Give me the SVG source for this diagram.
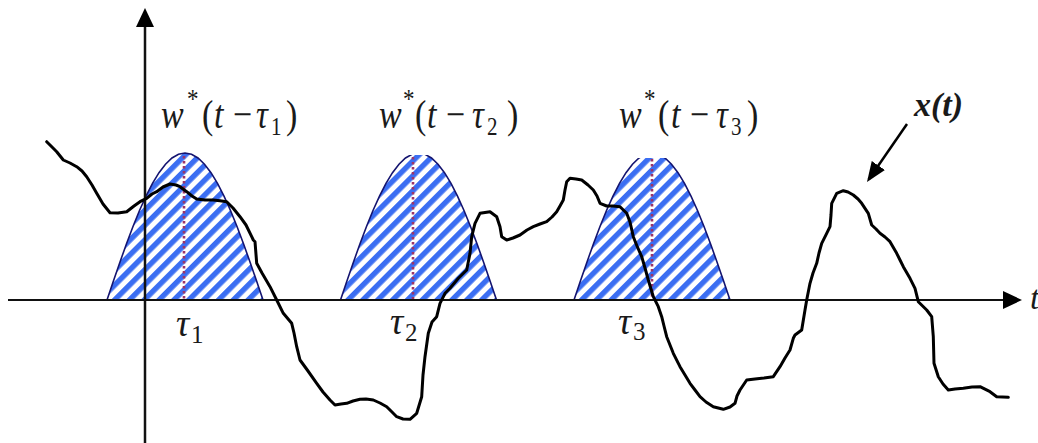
<svg xmlns="http://www.w3.org/2000/svg" width="1038" height="443" viewBox="0 0 1038 443">
<style>
.lbl{font-family:"Liberation Serif","Times New Roman",serif;font-style:italic;font-size:34px;fill:#1a1a1a}
.up{font-style:normal}
.sup{font-style:normal;font-size:23px}
.sub{font-style:normal;font-size:21px}
.tauT{font-size:33px}
.tauB{font-size:37px}
.subB{font-style:normal;font-size:25px}
.bump{fill:url(#hatch);stroke:#141470;stroke-width:1.6}
.dot{stroke:#9c3468;stroke-width:2.6;stroke-dasharray:2.5 2.5}
.axis{stroke:#111;fill:none}
.sig{fill:none;stroke:#000;stroke-width:3;stroke-linejoin:round;stroke-linecap:round}
</style>
<defs>
<pattern id="hatch" width="10.5" height="10.5" patternUnits="userSpaceOnUse" patternTransform="rotate(-45)">
<rect width="10.5" height="10.5" fill="#fff"/>
<rect width="10.5" height="5.4" fill="#3b6ef2"/>
</pattern>
<path id="bumpShape" d="M-78,0 L-71.5,-19.2 -65,-38 -58.5,-56.3 -52,-73.5 -45.5,-89.5 -39,-103.9 -32.5,-116.6 -26,-127.3 -19.5,-135.8 -13,-142 -6.5,-145.7 0,-147 6.5,-145.7 13,-142 19.5,-135.8 26,-127.3 32.5,-116.6 39,-103.9 45.5,-89.5 52,-73.5 58.5,-56.3 65,-38 71.5,-19.2 78,0 Z"/>
<clipPath id="clip2"><rect x="330" y="155" width="180" height="150"/></clipPath>
<clipPath id="clip3"><rect x="560" y="158" width="180" height="150"/></clipPath>
<marker id="ah" viewBox="0 0 20 16" refX="17" refY="8" markerWidth="20" markerHeight="16" markerUnits="userSpaceOnUse" orient="auto">
<path d="M0,0 L20,8 L0,16 Z" fill="#000"/>
</marker>
</defs>

<g id="window1">
<use href="#bumpShape" class="bump" transform="translate(185,300)"/>
<line class="dot" x1="184" y1="156" x2="184" y2="300"/>
</g>
<g id="window2">
<g clip-path="url(#clip2)"><use href="#bumpShape" class="bump" transform="translate(418.5,300)"/></g>
<line class="dot" x1="413" y1="157" x2="413" y2="300"/>
</g>
<g id="window3">
<g clip-path="url(#clip3)"><use href="#bumpShape" class="bump" transform="translate(652,300)"/></g>
<line class="dot" x1="652" y1="159" x2="652" y2="300"/>
</g>

<g id="axes">
<line class="axis" x1="8" y1="300" x2="1004" y2="300" stroke-width="2"/>
<polygon points="1003,291 1022,300 1003,309" fill="#000"/>
<line class="axis" x1="145" y1="443" x2="145" y2="26" stroke-width="2.5"/>
<polygon points="136,27 145,8 154,27" fill="#000"/>
<text class="lbl" x="1030" y="309" font-size="32">t</text>
</g>

<g id="signal">
<polyline class="sig" points="46.7,141.7 52,147 56.7,151.7 63.3,160 70,163 76.7,166.7 82,171 86.7,176.7 92,185 96.7,193.3 103,204 110,212.7 118,213 126.7,211.7 134,206 140,201.7 146.7,198.3 152,194 156.7,191.7 163,187 170,184 176,185 180,186.7 186.7,191.7 192,196 196.7,199 205,200 213,200 220,200.7 226.7,201.7 233,208 240,216.7 246,225 251.7,236.7 253.3,240 255,241.7 256.7,263.3 262,273 270,286.7 276.7,300 283.3,313.3 291.7,323.3 294,333 296.7,346.7 300,360 308,371 316.7,383.3 323,392 330,400 335,405 341,404 346.7,403.3 353,401 360,399.3 366,399 373.3,400 380,403 386.7,406.7 391,411 396.7,416.7 403,419 410,419.3 416.7,413.3 421.7,396.7 423,375 425,356.7 428.3,333.3 432,322 436.7,316.7 440,303.3 445,293.3 450,288.3 458.3,278.3 466.7,270 470,253.3 471.7,236.7 475,223.3 480,213.3 490,211.7 496.7,216.7 500,226.7 501.7,236.7 506.7,240 513,238 520,235 527,230 533.3,226.7 540,224 546.7,221.7 552,217 556.7,211.7 560,206 563.3,200 565,190 566.7,181.7 570,178.3 576,179 581.7,180 588,185 593.3,190 597,196 600,203.3 606.7,206 613,206 620,206.7 626.7,213.3 630,222 633.3,236.7 637,246 641.7,256.7 645,268 648.3,280 653.3,296.7 658.3,306.7 661.7,316.7 664,326 666.7,336.7 670,345 673.3,353.3 680,366.7 685,375 690,383.3 695,390 700,396.7 706,402 713.3,406.7 723.3,409.3 730,407 735,403.3 737,396 740,390 746.7,380 755,379 764,378 773.3,376.7 780,366.7 785,358 790,350 793.3,338.3 795,335 801.7,330 805,310 806.7,300 810,283.3 813,273 816.7,263.3 819,253 821.7,243.3 826.7,233.3 830,226.7 831,215 831.7,203.3 836.7,193.3 843.3,190.7 848,192 853.3,195 858,199 861.7,203.3 868.3,213.3 871.7,225 876,229 880,233.3 885,237 890,241.7 896.7,253.3 900,260 903.3,266.7 910,278.3 915,288.3 918.3,301.7 926.7,310 931.7,316.7 933.3,336.7 934,363.3 938.3,376.7 943,384 948.3,390 955,389 963.3,388.3 972,387 980,386.7 990,391.7 996.7,396.7 1008.3,397.3"/>
</g>

<g id="label-w1" transform="translate(0,128) scale(1,1.2) translate(0,-128)">
<text class="lbl"><tspan x="161" y="128">w</tspan><tspan class="sup" x="187" y="111">*</tspan><tspan class="up" x="202" y="128">(</tspan><tspan x="214" y="128">t</tspan><tspan class="up" x="233" y="128">−</tspan><tspan class="tauT" x="256" y="128">τ</tspan><tspan class="sub" x="271" y="134">1</tspan><tspan class="up" x="286" y="128">)</tspan></text>
</g>
<g id="label-w2" transform="translate(0,128) scale(1,1.2) translate(0,-128)">
<text class="lbl"><tspan x="379" y="128">w</tspan><tspan class="sup" x="403" y="111">*</tspan><tspan class="up" x="415" y="128">(</tspan><tspan x="427" y="128">t</tspan><tspan class="up" x="446" y="128">−</tspan><tspan class="tauT" x="472" y="128">τ</tspan><tspan class="sub" x="487" y="134">2</tspan><tspan class="up" x="507" y="128">)</tspan></text>
</g>
<g id="label-w3" transform="translate(0,128) scale(1,1.2) translate(0,-128)">
<text class="lbl"><tspan x="619" y="128">w</tspan><tspan class="sup" x="644" y="111">*</tspan><tspan class="up" x="658" y="128">(</tspan><tspan x="671" y="128">t</tspan><tspan class="up" x="690" y="128">−</tspan><tspan class="tauT" x="716" y="128">τ</tspan><tspan class="sub" x="731" y="134">3</tspan><tspan class="up" x="747" y="128">)</tspan></text>
</g>

<g id="tau-labels">
<text class="lbl"><tspan class="tauB" x="176" y="336">τ</tspan><tspan class="subB" x="191" y="343">1</tspan></text>
<text class="lbl"><tspan class="tauB" x="390" y="334">τ</tspan><tspan class="subB" x="405" y="341">2</tspan></text>
<text class="lbl"><tspan class="tauB" x="618" y="334">τ</tspan><tspan class="subB" x="633" y="340">3</tspan></text>
</g>

<g id="label-x">
<text class="lbl" x="914" y="116" font-size="30" font-weight="bold">x(t)</text>
</g>

<g id="connectors">
<line x1="907" y1="124" x2="868.7" y2="179.5" stroke="#000" stroke-width="2.5" marker-end="url(#ah)"/>
</g>
</svg>
